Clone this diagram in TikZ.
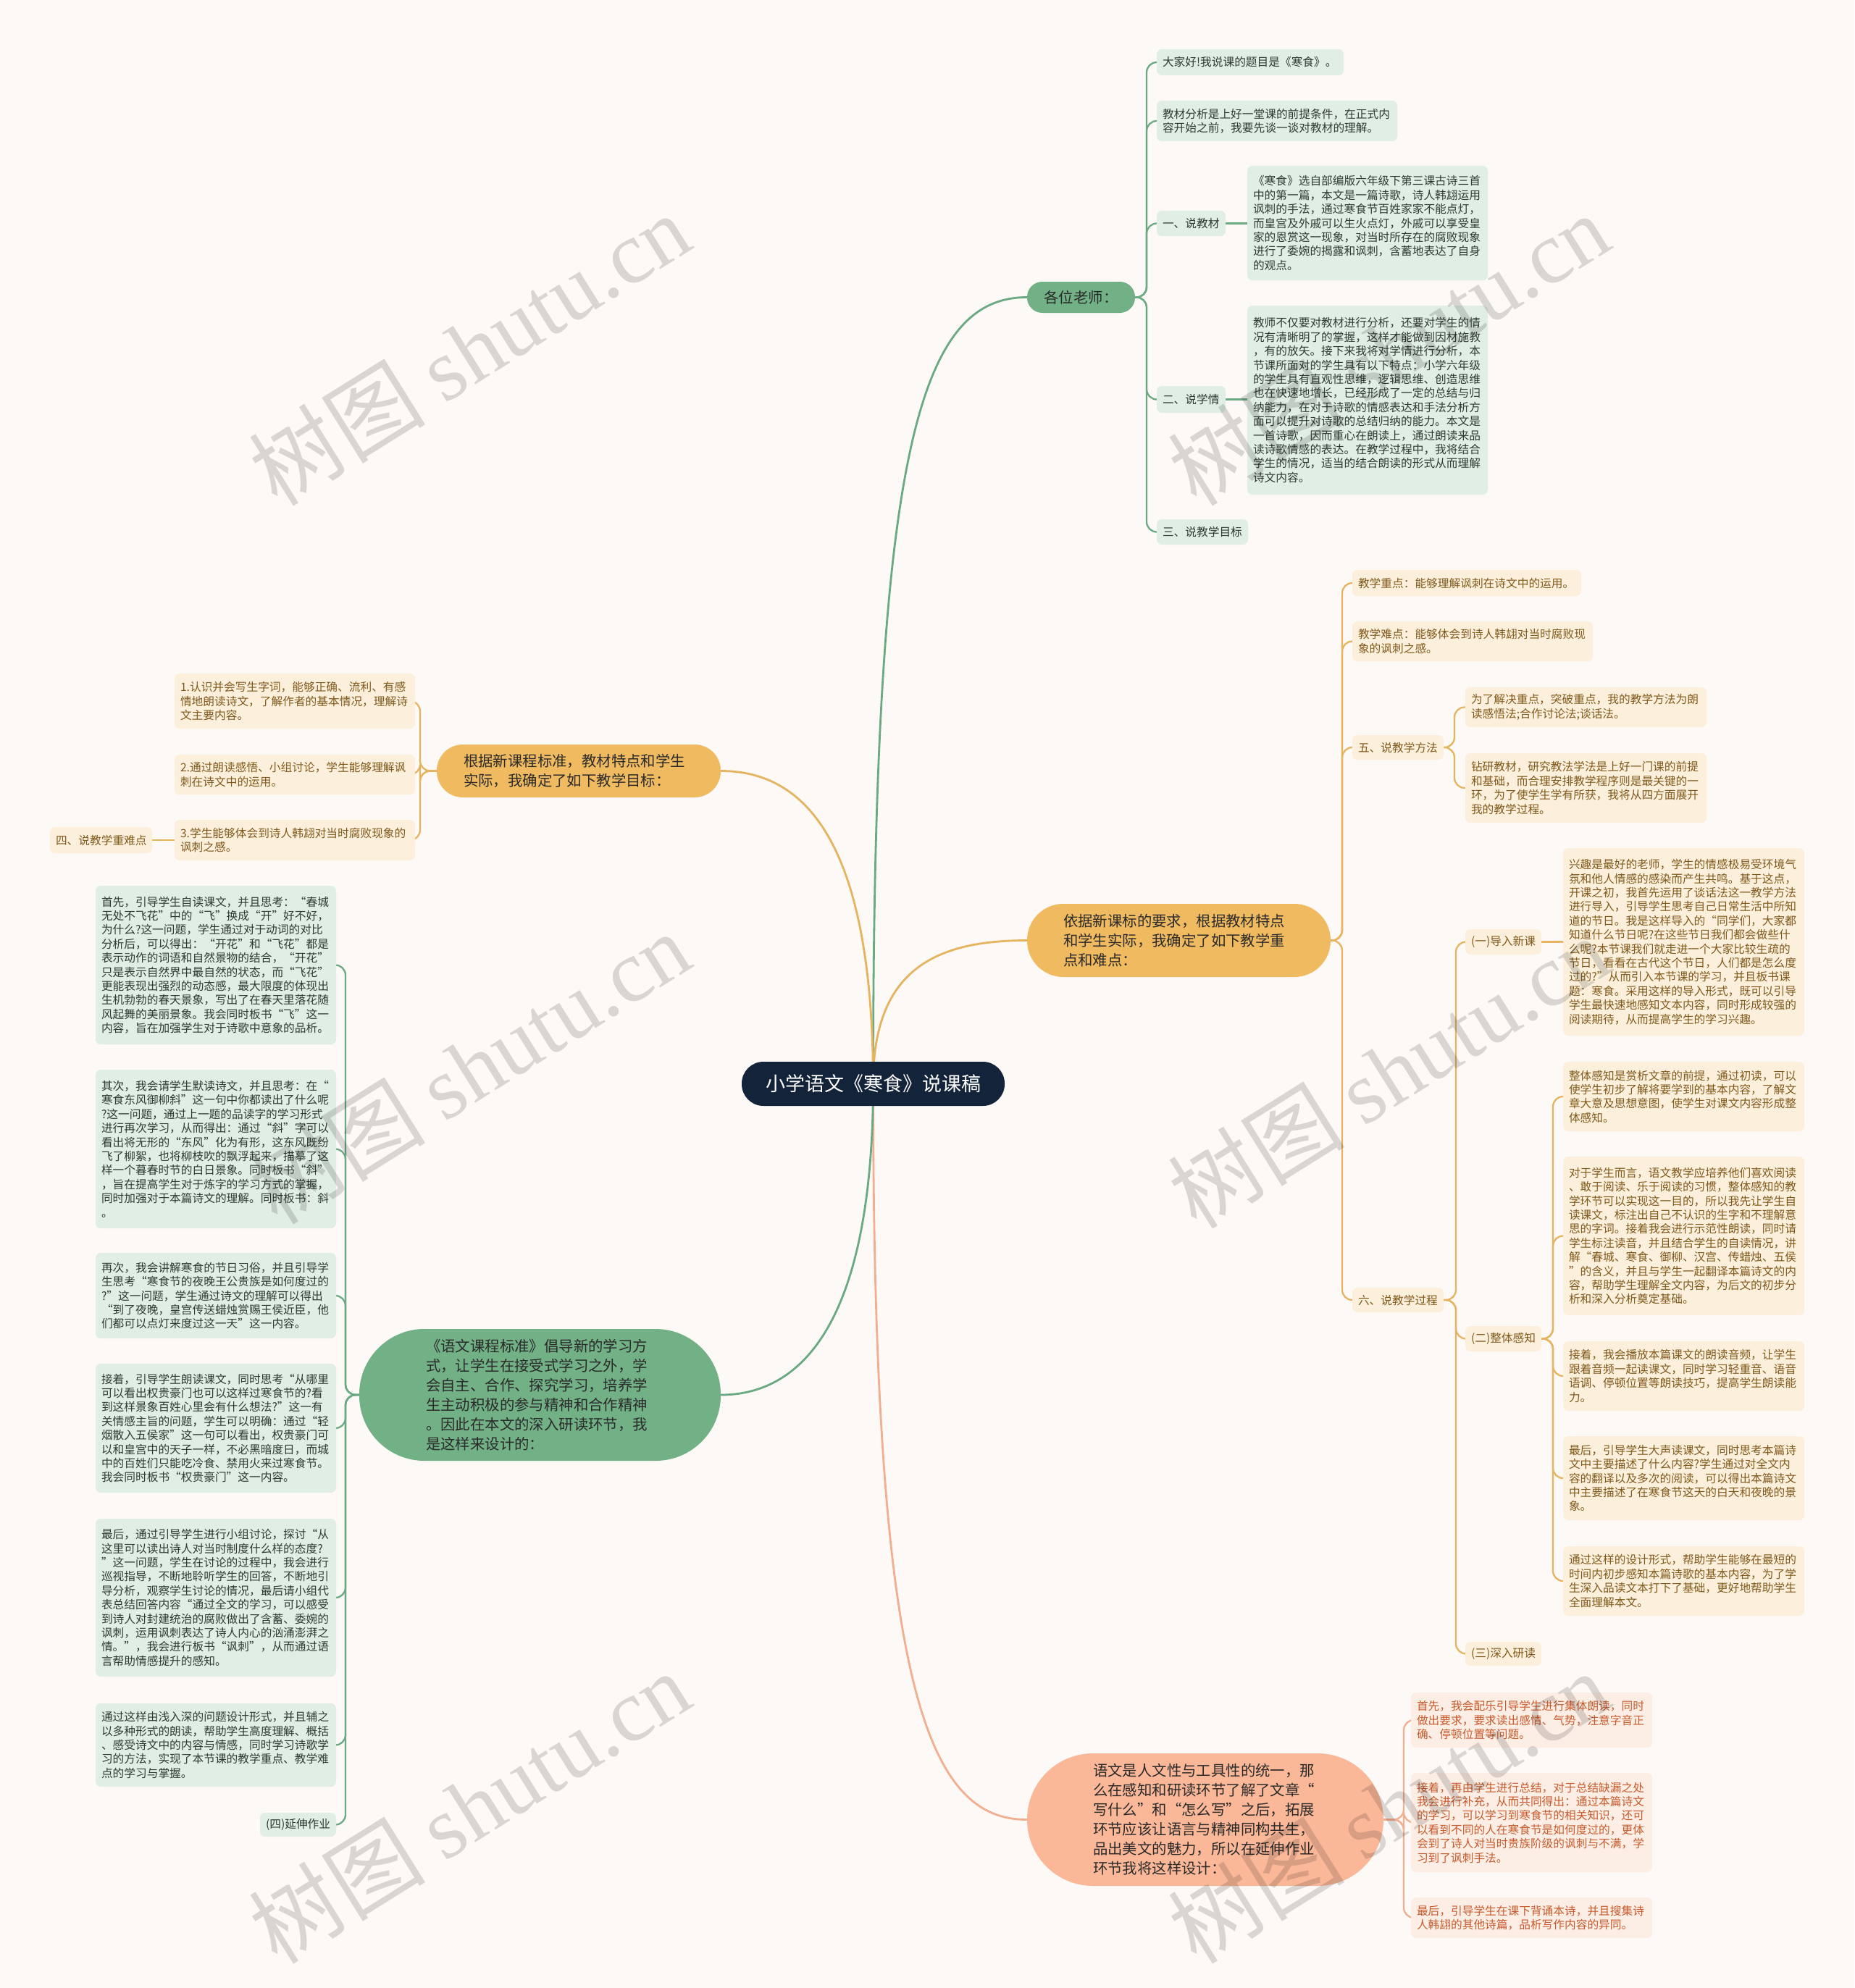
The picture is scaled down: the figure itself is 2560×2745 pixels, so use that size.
\documentclass[tikz,border=0pt]{standalone}
\usepackage{fontspec}
\setmainfont{Noto Sans CJK SC}
\newfontfamily\wmserif{Liberation Serif}
\usetikzlibrary{calc}
\pgfdeclarelayer{bglayer}\pgfdeclarelayer{background}\pgfdeclarelayer{foreground}
\pgfsetlayers{bglayer,background,main,foreground}
\definecolor{bg}{HTML}{FCF9F6}
\definecolor{navy}{HTML}{13233A}
\definecolor{gMain}{HTML}{72B086}
\definecolor{gLine}{HTML}{6BA983}
\definecolor{gLight}{HTML}{E0EEE4}
\definecolor{gTxt}{HTML}{2E3A32}
\definecolor{tMain}{HTML}{F0BB60}
\definecolor{tLine}{HTML}{E6B45E}
\definecolor{tLight}{HTML}{FCF0DD}
\definecolor{tTxt}{HTML}{80591A}
\definecolor{pMain}{HTML}{FBB899}
\definecolor{pLine}{HTML}{F2AF90}
\definecolor{pLight}{HTML}{FDEEE5}
\definecolor{pTxt}{HTML}{C65A2C}
\definecolor{dTxt}{HTML}{2A2A2A}
\newcommand\fsm{\fontsize{15.7}{19.4}\selectfont}
\newcommand\fmn{\fontsize{20.4}{27}\selectfont}
\newcommand\fct{\fontsize{27}{32}\selectfont}
\newcommand\boxnode[8]{%
 \pgfmathsetmacro\bxw{#4-#3}%
 \pgfmathsetmacro\bxh{#6-#5}%
 \pgfmathsetmacro\bxt{#4-#3-2*#7}%
 \pgfmathsetmacro\bxcx{(#3+#4)/2}%
 \pgfmathsetmacro\bxcy{(#5+#6)/2}%
 \node[#1, inner xsep=#7pt, minimum width=\bxw pt, minimum height=\bxh pt, text width=\bxt pt] (#2) at (\bxcx,\bxcy) {#8};}
\tikzset{
 base/.style={rounded corners=7pt, inner ysep=2pt, align=left, font=\fsm, anchor=center},
 gbox/.style={base, fill=gLight, text=gTxt},
 tbox/.style={base, fill=tLight, text=tTxt},
 pbox/.style={base, fill=pLight, text=pTxt},
 cmain/.style={fill=navy, text=white, font=\fct, align=center, rounded corners=30pt, inner ysep=0pt},
 gmain/.style={fill=gMain, text=dTxt, font=\fmn, align=left, inner ysep=0pt},
 tmain/.style={fill=tMain, text=dTxt, font=\fmn, align=left, inner ysep=0pt},
 pmain/.style={fill=pMain, text=dTxt, font=\fmn, align=left, inner ysep=0pt},
 gline/.style={draw=gLine, line width=2.3pt, rounded corners=14pt},
 tline/.style={draw=tLine, line width=2.3pt, rounded corners=14pt},
 pline/.style={draw=pLine, line width=2.3pt, rounded corners=14pt},
 gmainline/.style={draw=gLine, line width=2.8pt},
 tmainline/.style={draw=tLine, line width=2.8pt},
 pmainline/.style={draw=pLine, line width=2.8pt},
 wm/.style={text=black, text opacity=0.14, rotate=32, font=\fontsize{122}{122}\selectfont, inner sep=0pt}
}
\begin{document}
\begin{tikzpicture}[x=1pt,y=-1pt]
\useasboundingbox (0,0) rectangle (2560,2745);
\begin{pgfonlayer}{bglayer}
\fill[bg] (0,0) rectangle (2560,2745);
\end{pgfonlayer}

% central
\boxnode{cmain}{C}{1024}{1387}{1466}{1527}{0}{小学语文《寒食》说课稿}

% right green branch
\boxnode{gmain,align=center,rounded corners=21pt}{G0}{1418}{1567}{389}{432}{0}{各位老师：}
\boxnode{gbox}{G1}{1597}{1855}{68}{104}{8}{大家好!我说课的题目是《寒食》。}
\boxnode{gbox}{G2}{1597}{1929}{139}{195}{8}{教材分析是上好一堂课的前提条件，在正式内\\容开始之前，我要先谈一谈对教材的理解。}
\boxnode{gbox}{G3}{1597}{1692}{291}{326}{8}{一、说教材}
\boxnode{gbox}{G3t}{1722}{2054}{229}{387}{8}{《寒食》选自部编版六年级下第三课古诗三首\\中的第一篇，本文是一篇诗歌，诗人韩翃运用\\讽刺的手法，通过寒食节百姓家家不能点灯，\\而皇宫及外戚可以生火点灯，外戚可以享受皇\\家的恩赏这一现象，对当时所存在的腐败现象\\进行了委婉的揭露和讽刺，含蓄地表达了自身\\的观点。}
\boxnode{gbox}{G4}{1597}{1692}{533}{570}{8}{二、说学情}
\boxnode{gbox}{G4t}{1722}{2054}{422}{683}{8}{教师不仅要对教材进行分析，还要对学生的情\\况有清晰明了的掌握，这样才能做到因材施教\\，有的放矢。接下来我将对学情进行分析，本\\节课所面对的学生具有以下特点：小学六年级\\的学生具有直观性思维，逻辑思维、创造思维\\也在快速地增长，已经形成了一定的总结与归\\纳能力，在对于诗歌的情感表达和手法分析方\\面可以提升对诗歌的总结归纳的能力。本文是\\一首诗歌，因而重心在朗读上，通过朗读来品\\读诗歌情感的表达。在教学过程中，我将结合\\学生的情况，适当的结合朗读的形式从而理解\\诗文内容。}
\boxnode{gbox}{G5}{1597}{1723}{717}{752}{8}{三、说教学目标}

% right tan branch
\boxnode{tmain,rounded corners=50pt}{T0}{1418}{1837}{1248}{1349}{50}{依据新课标的要求，根据教材特点\\和学生实际，我确定了如下教学重\\点和难点：}
\boxnode{tbox}{T1}{1867}{2183}{787}{823}{8}{教学重点：能够理解讽刺在诗文中的运用。}
\boxnode{tbox}{T2}{1867}{2199}{858}{913}{8}{教学难点：能够体会到诗人韩翃对当时腐败现\\象的讽刺之感。}
\boxnode{tbox}{T3}{1867}{1993}{1015}{1049}{8}{五、说教学方法}
\boxnode{tbox}{T31}{2023}{2356}{949}{1004}{8}{为了解决重点，突破重点，我的教学方法为朗\\读感悟法;合作讨论法;谈话法。}
\boxnode{tbox}{T32}{2023}{2356}{1040}{1136}{8}{钻研教材，研究教法学法是上好一门课的前提\\和基础，而合理安排教学程序则是最关键的一\\环，为了使学生学有所获，我将从四方面展开\\我的教学过程。}
\boxnode{tbox}{T4}{1867}{1993}{1778}{1812}{8}{六、说教学过程}
\boxnode{tbox}{T41}{2023}{2128}{1283}{1318}{8}{(一)导入新课}
\boxnode{tbox}{T41t}{2158}{2491}{1171}{1430}{8}{兴趣是最好的老师，学生的情感极易受环境气\\氛和他人情感的感染而产生共鸣。基于这点，\\开课之初，我首先运用了谈话法这一教学方法\\进行导入，引导学生思考自己日常生活中所知\\道的节日。我是这样导入的“同学们，大家都\\知道什么节日呢?在这些节日我们都会做些什\\么呢?本节课我们就走进一个大家比较生疏的\\节日，看看在古代这个节日，人们都是怎么度\\过的?”从而引入本节课的学习，并且板书课\\题：寒食。采用这样的导入形式，既可以引导\\学生最快速地感知文本内容，同时形成较强的\\阅读期待，从而提高学生的学习兴趣。}
\boxnode{tbox}{T42}{2023}{2128}{1831}{1866}{8}{(二)整体感知}
\boxnode{tbox}{T42a}{2158}{2491}{1466}{1562}{8}{整体感知是赏析文章的前提，通过初读，可以\\使学生初步了解将要学到的基本内容，了解文\\章大意及思想意图，使学生对课文内容形成整\\体感知。}
\boxnode{tbox}{T42b}{2158}{2491}{1597}{1816}{8}{对于学生而言，语文教学应培养他们喜欢阅读\\、敢于阅读、乐于阅读的习惯，整体感知的教\\学环节可以实现这一目的，所以我先让学生自\\读课文，标注出自己不认识的生字和不理解意\\思的字词。接着我会进行示范性朗读，同时请\\学生标注读音，并且结合学生的自读情况，讲\\解“春城、寒食、御柳、汉宫、传蜡烛、五侯\\”的含义，并且与学生一起翻译本篇诗文的内\\容，帮助学生理解全文内容，为后文的初步分\\析和深入分析奠定基础。}
\boxnode{tbox}{T42c}{2158}{2491}{1852}{1948}{8}{接着，我会播放本篇课文的朗读音频，让学生\\跟着音频一起读课文，同时学习轻重音、语音\\语调、停顿位置等朗读技巧，提高学生朗读能\\力。}
\boxnode{tbox}{T42d}{2158}{2491}{1983}{2099}{8}{最后，引导学生大声读课文，同时思考本篇诗\\文中主要描述了什么内容?学生通过对全文内\\容的翻译以及多次的阅读，可以得出本篇诗文\\中主要描述了在寒食节这天的白天和夜晚的景\\象。}
\boxnode{tbox}{T42e}{2158}{2491}{2135}{2231}{8}{通过这样的设计形式，帮助学生能够在最短的\\时间内初步感知本篇诗歌的基本内容，为了学\\生深入品读文本打下了基础，更好地帮助学生\\全面理解本文。}
\boxnode{tbox}{T43}{2023}{2128}{2267}{2300}{8}{(三)深入研读}

% right peach branch
\boxnode{pmain,rounded corners=91pt}{P0}{1418}{1910}{2421}{2604}{91}{语文是人文性与工具性的统一，那\\么在感知和研读环节了解了文章“\\写什么”和“怎么写”之后，拓展\\环节应该让语言与精神同构共生，\\品出美文的魅力，所以在延伸作业\\环节我将这样设计：}
\boxnode{pbox}{P1}{1948}{2281}{2337}{2413}{8}{首先，我会配乐引导学生进行集体朗读，同时\\做出要求，要求读出感情、气势，注意字音正\\确、停顿位置等问题。}
\boxnode{pbox}{P2}{1948}{2281}{2448}{2585}{8}{接着，再由学生进行总结，对于总结缺漏之处\\我会进行补充，从而共同得出：通过本篇诗文\\的学习，可以学习到寒食节的相关知识，还可\\以看到不同的人在寒食节是如何度过的，更体\\会到了诗人对当时贵族阶级的讽刺与不满，学\\习到了讽刺手法。}
\boxnode{pbox}{P3}{1948}{2281}{2620}{2676}{8}{最后，引导学生在课下背诵本诗，并且搜集诗\\人韩翃的其他诗篇，品析写作内容的异同。}

% left tan branch
\boxnode{tmain,rounded corners=36pt}{L0}{603}{995}{1028}{1101}{37}{根据新课程标准，教材特点和学生\\实际，我确定了如下教学目标：}
\boxnode{tbox}{L1}{241}{573}{930}{1006}{8}{1.认识并会写生字词，能够正确、流利、有感\\情地朗读诗文，了解作者的基本情况，理解诗\\文主要内容。}
\boxnode{tbox}{L2}{241}{573}{1042}{1097}{8}{2.通过朗读感悟、小组讨论，学生能够理解讽\\刺在诗文中的运用。}
\boxnode{tbox}{L3}{241}{573}{1132}{1188}{8}{3.学生能够体会到诗人韩翃对当时腐败现象的\\讽刺之感。}
\boxnode{tbox}{L4}{69}{210}{1142}{1178}{8}{四、说教学重难点}

% left green branch
\boxnode{gmain,rounded corners=90pt}{M0}{496}{995}{1835}{2017}{92}{《语文课程标准》倡导新的学习方\\式，让学生在接受式学习之外，学\\会自主、合作、探究学习，培养学\\生主动积极的参与精神和合作精神\\。因此在本文的深入研读环节，我\\是这样来设计的：}
\boxnode{gbox}{M1}{132}{464}{1223}{1442}{8}{首先，引导学生自读课文，并且思考：“春城\\无处不飞花”中的“飞”换成“开”好不好，\\为什么?这一问题，学生通过对于动词的对比\\分析后，可以得出：“开花”和“飞花”都是\\表示动作的词语和自然景物的结合，“开花”\\只是表示自然界中最自然的状态，而“飞花”\\更能表现出强烈的动态感，最大限度的体现出\\生机勃勃的春天景象，写出了在春天里落花随\\风起舞的美丽景象。我会同时板书“飞”这一\\内容，旨在加强学生对于诗歌中意象的品析。}
\boxnode{gbox}{M2}{132}{464}{1477}{1696}{8}{其次，我会请学生默读诗文，并且思考：在“\\寒食东风御柳斜”这一句中你都读出了什么呢\\?这一问题，通过上一题的品读字的学习形式\\进行再次学习，从而得出：通过“斜”字可以\\看出将无形的“东风”化为有形，这东风既纷\\飞了柳絮，也将柳枝吹的飘浮起来，描摹了这\\样一个暮春时节的白日景象。同时板书“斜”\\，旨在提高学生对于炼字的学习方式的掌握，\\同时加强对于本篇诗文的理解。同时板书：斜\\。}
\boxnode{gbox}{M3}{132}{464}{1730}{1848}{8}{再次，我会讲解寒食的节日习俗，并且引导学\\生思考“寒食节的夜晚王公贵族是如何度过的\\?”这一问题，学生通过诗文的理解可以得出\\“到了夜晚，皇宫传送蜡烛赏赐王侯近臣，他\\们都可以点灯来度过这一天”这一内容。}
\boxnode{gbox}{M4}{132}{464}{1883}{2061}{8}{接着，引导学生朗读课文，同时思考“从哪里\\可以看出权贵豪门也可以这样过寒食节的?看\\到这样景象百姓心里会有什么想法?”这一有\\关情感主旨的问题，学生可以明确：通过“轻\\烟散入五侯家”这一句可以看出，权贵豪门可\\以和皇宫中的天子一样，不必黑暗度日，而城\\中的百姓们只能吃冷食、禁用火来过寒食节。\\我会同时板书“权贵豪门”这一内容。}
\boxnode{gbox}{M5}{132}{464}{2097}{2315}{8}{最后，通过引导学生进行小组讨论，探讨“从\\这里可以读出诗人对当时制度什么样的态度?\\”这一问题，学生在讨论的过程中，我会进行\\巡视指导，不断地聆听学生的回答，不断地引\\导分析，观察学生讨论的情况，最后请小组代\\表总结回答内容“通过全文的学习，可以感受\\到诗人对封建统治的腐败做出了含蓄、委婉的\\讽刺，运用讽刺表达了诗人内心的汹涌澎湃之\\情。”，我会进行板书“讽刺”，从而通过语\\言帮助情感提升的感知。}
\boxnode{gbox}{M6}{132}{464}{2352}{2467}{8}{通过这样由浅入深的问题设计形式，并且辅之\\以多种形式的朗读，帮助学生高度理解、概括\\、感受诗文中的内容与情感，同时学习诗歌学\\习的方法，实现了本节课的教学重点、教学难\\点的学习与掌握。}
\boxnode{gbox}{M7}{359}{464}{2503}{2536}{8}{(四)延伸作业}

% trunk coordinates
\coordinate (gT) at (1583,410.5);
\coordinate (tT) at (1853,1298.5);
\coordinate (t5T) at (2008,1032);
\coordinate (t6T) at (2010,1795);
\coordinate (t62T) at (2144,1848.5);
\coordinate (pT) at (1938,2512.5);
\coordinate (lT) at (580,1064.5);
\coordinate (mT) at (477,1926);

\begin{pgfonlayer}{background}
% main branches
\draw[gmainline] (C.center) .. controls (1205,620) and (1270,410.5) .. (G0.west);
\draw[tmainline] (C.center) .. controls (1205,1340) and (1290,1298.5) .. (T0.west);
\draw[pmainline] (C.center) .. controls (1205,2330) and (1280,2512.5) .. (P0.west);
\draw[tmainline] (C.center) .. controls (1205,1160) and (1110,1064.5) .. (L0.east);
\draw[gmainline] (C.center) .. controls (1205,1820) and (1110,1926) .. (M0.east);
% green right
\foreach \n in {G1,G2,G3,G4,G5} \draw[gline] (G0.east) -- (gT) |- (\n.west);
\draw[gline] (G3.east) -- (G3.east -| G3t.west);
\draw[gline] (G4.east) -- (G4.east -| G4t.west);
% tan right
\foreach \n in {T1,T2,T3,T4} \draw[tline] (T0.east) -- (tT) |- (\n.west);
\foreach \n in {T31,T32} \draw[tline] (T3.east) -- (t5T) |- (\n.west);
\foreach \n in {T41,T42,T43} \draw[tline] (T4.east) -- (t6T) |- (\n.west);
\draw[tline] (T41.east) -- (T41.east -| T41t.west);
\foreach \n in {T42a,T42b,T42c,T42d,T42e} \draw[tline] (T42.east) -- (t62T) |- (\n.west);
% peach
\foreach \n in {P1,P2,P3} \draw[pline] (P0.east) -- (pT) |- (\n.west);
% left tan
\foreach \n in {L1,L2,L3} \draw[tline] (L0.west) -- (lT) |- (\n.east);
\draw[tline] (L4.east) -- (L4.east -| L3.west);
% left green
\foreach \n in {M1,M2,M3,M4,M5,M6,M7} \draw[gline] (M0.west) -- (mT) |- (\n.east);
\end{pgfonlayer}

\begin{pgfonlayer}{foreground}
\foreach \wx/\wy/\wn in {648/482/1,1917/482/2,648/1474/3,1917/1480/4,648/2495/5,1917/2495/6}
  \node[wm] (wm\wn) at (\wx,\wy) {树图 {\wmserif shutu.cn}};
\end{pgfonlayer}
\end{tikzpicture}
\end{document}
